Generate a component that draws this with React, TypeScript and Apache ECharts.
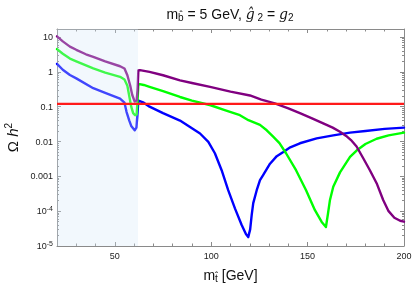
import React, { useEffect, useRef } from "react";
import * as echarts from "echarts";

const purpleX = [20, 23, 26.7, 30, 35, 38.8, 45, 52.7, 55, 56.5, 58, 59, 60.3, 61.3, 61.8, 62.2, 63, 68, 75, 83.8, 90, 99.4, 110, 120.1, 126, 133, 140, 146, 152, 158.1, 163, 166.8, 170, 172.5, 175.4, 179, 182.3, 186, 189.2, 192, 195, 198, 200];
const purpleY = [10.5, 7.5, 5.3, 4.3, 3.2, 2.7, 2.0, 1.45, 1.25, 0.8, 0.4, 0.22, 0.14, 0.15, 0.3, 1.1, 1.12, 1.0, 0.8, 0.57, 0.48, 0.37, 0.27, 0.21, 0.16, 0.125, 0.09, 0.065, 0.047, 0.033, 0.025, 0.019, 0.0145, 0.011, 0.0072, 0.0032, 0.0015, 6e-4, 2.1e-4, 1.0e-4, 6.5e-5, 5.3e-5, 5.0e-5];

const greenX = [20, 23, 26.7, 30, 38.8, 45, 52.7, 55, 56.5, 57.5, 58.5, 59.5, 60.5, 61.3, 61.8, 62.2, 65, 68, 75, 83.8, 90, 99.7, 107, 114.9, 119.3, 125.3, 128.8, 132, 135.4, 138.8, 144, 149.2, 153.8, 157.3, 159.5, 160.5, 161.6, 163.3, 166.8, 172, 175.4, 180, 185.8, 192, 200];
const greenY = [4.5, 3.3, 2.4, 2.0, 1.26, 0.95, 0.72, 0.6, 0.4, 0.2, 0.1, 0.065, 0.057, 0.06, 0.15, 0.45, 0.42, 0.37, 0.28, 0.19, 0.15, 0.11, 0.08, 0.057, 0.041, 0.03, 0.021, 0.014, 0.009, 0.0046, 0.0015, 4e-4, 1.07e-4, 4.9e-5, 3.5e-5, 8e-5, 2.1e-4, 5e-4, 0.0013, 0.0036, 0.0055, 0.0085, 0.012, 0.015, 0.018];

const blueX = [20, 23, 26.7, 30, 38.8, 45, 52.7, 55, 56.1, 57.5, 58.5, 60.3, 61.2, 61.8, 62.2, 65, 68, 75, 83.8, 89, 94.2, 98.5, 101.9, 105.4, 108.8, 112.3, 115.8, 118, 119.2, 120.2, 121, 121.8, 123.6, 125.3, 127, 130.5, 134, 137.4, 141, 146, 154.7, 163.3, 172, 180, 190, 200];
const blueY = [1.7, 1.15, 0.81, 0.65, 0.34, 0.25, 0.17, 0.13, 0.07, 0.04, 0.028, 0.021, 0.025, 0.07, 0.15, 0.13, 0.1, 0.065, 0.04, 0.026, 0.017, 0.0098, 0.0046, 0.0015, 4e-4, 1.2e-4, 4e-5, 2.2e-5, 1.8e-5, 3e-5, 7.8e-5, 1.7e-4, 4e-4, 7.8e-4, 0.0011, 0.0023, 0.0038, 0.005, 0.0068, 0.0089, 0.0123, 0.015, 0.018, 0.02, 0.023, 0.025];

const relicX = [20, 200];
const relicY = [0.12, 0.12];

const shadeRange = [20, 62];

const xMajorTicks = [50, 100, 150];
const xLabels = [50, 100, 150, 200];
const yMinorTicks: number[] = [];
for (let e = -5; e <= 1; e++) {
  for (let m = 2; m <= 9; m++) {
    const v = m * Math.pow(10, e);
    if (v < 17) yMinorTicks.push(Number(v.toPrecision(3)));
  }
}

const zip = (xs: number[], ys: number[]) => xs.map((x, i) => [x, ys[i]]);

const FRAME = "#8a8a8a";
const FONT = "Liberation Sans";

export default function App() {
  const ref = useRef<HTMLDivElement>(null);
  useEffect(() => {
    const chart = echarts.init(ref.current!, null, { renderer: "svg" });
    const xBase = {
      type: "value",
      min: 20,
      max: 200,
      splitLine: { show: false },
    };
    const yBase = {
      type: "log",
      logBase: 10,
      min: 1e-5,
      max: 17,
      splitLine: { show: false },
    };
    const yFmt = (v: number) => {
      const e = Math.round(Math.log10(v));
      const m: Record<string, string> = { "1": "10", "0": "1", "-1": "0.1", "-2": "0.01", "-3": "0.001" };
      if (m[String(e)] !== undefined) return m[String(e)];
      return "10{sup|-" + Math.abs(e) + "}";
    };
    const curve = (xs: number[], ys: number[], color: string) => ({
      type: "line",
      data: zip(xs, ys),
      showSymbol: false,
      lineStyle: { color, width: 2.4, join: "round", cap: "round" },
      z: 2,
    });
    chart.setOption({
      animation: false,
      grid: { left: 57, right: 9, top: 29, bottom: 40, outerBoundsMode: "none", containLabel: false },
      graphic: [
        {
          type: "text",
          x: 230,
          y: 14,
          style: {
            text: "m{sub|b\u0302} = 5 GeV, {it|g\u0302}{sub| 2} = {it|g}{sub|2}",
            align: "center",
            verticalAlign: "middle",
            fontFamily: FONT,
            fontSize: 14,
            fill: "#111",
            rich: {
              sub: { fontSize: 10, fontFamily: FONT, padding: [7, 0, 0, 0], verticalAlign: "bottom" },
              it: { fontSize: 14, fontFamily: "DejaVu Serif", fontStyle: "italic" },
            },
          },
        },
      ],
      xAxis: [
        {
          ...xBase,
          position: "bottom",
          axisLine: { show: true, lineStyle: { color: FRAME, width: 1 } },
          axisTick: { show: true, inside: true, length: 4, customValues: xMajorTicks, lineStyle: { color: FRAME } },
          axisLabel: { show: true, customValues: xLabels, color: "#222", fontSize: 9, fontFamily: FONT, margin: 5 },
          name: "m{sub|t\u0302} [GeV]",
          nameLocation: "middle",
          nameGap: 20,
          nameTextStyle: {
            fontSize: 14,
            fontFamily: FONT,
            color: "#111",
            rich: { sub: { fontSize: 10, fontFamily: FONT, padding: [7, 0, 0, 0], verticalAlign: "bottom" } },
          },
        },
        {
          ...xBase,
          position: "bottom",
          interval: 10,
          axisLine: { show: false },
          axisTick: { show: true, inside: true, length: 2.5, lineStyle: { color: FRAME } },
          axisLabel: { show: false },
        },
        {
          ...xBase,
          position: "top",
          axisLine: { show: true, lineStyle: { color: FRAME, width: 1 } },
          axisTick: { show: true, inside: true, length: 4, customValues: xMajorTicks, lineStyle: { color: FRAME } },
          axisLabel: { show: false },
        },
        {
          ...xBase,
          position: "top",
          interval: 10,
          axisLine: { show: false },
          axisTick: { show: true, inside: true, length: 2.5, lineStyle: { color: FRAME } },
          axisLabel: { show: false },
        },
      ],
      yAxis: [
        {
          ...yBase,
          position: "left",
          axisLine: { show: true, lineStyle: { color: FRAME, width: 1 } },
          axisTick: { show: true, inside: true, length: 4, lineStyle: { color: FRAME } },
          axisLabel: {
            show: true,
            showMaxLabel: false,
            formatter: yFmt,
            color: "#222",
            fontSize: 9,
            fontFamily: FONT,
            margin: 4,
            rich: { sup: { fontSize: 7, fontFamily: FONT, verticalAlign: "top", padding: [0, 0, 6, 0], color: "#222" } },
          },
          name: "\u03a9 {it|h}{sup|2}",
          nameLocation: "middle",
          nameGap: 36,
          nameRotate: 90,
          nameTextStyle: {
            fontSize: 15,
            fontFamily: FONT,
            color: "#111",
            rich: {
              it: { fontSize: 15, fontFamily: FONT, fontStyle: "italic" },
              sup: { fontSize: 10, fontFamily: FONT, verticalAlign: "top", padding: [0, 0, 8, 0] },
            },
          },
        },
        {
          ...yBase,
          position: "left",
          axisLine: { show: false },
          axisTick: { show: true, inside: true, length: 2, customValues: yMinorTicks, lineStyle: { color: FRAME } },
          axisLabel: { show: false },
        },
        {
          ...yBase,
          position: "right",
          axisLine: { show: true, lineStyle: { color: FRAME, width: 1 } },
          axisTick: { show: true, inside: true, length: 4, lineStyle: { color: FRAME } },
          axisLabel: { show: false },
        },
        {
          ...yBase,
          position: "right",
          axisLine: { show: false },
          axisTick: { show: true, inside: true, length: 2, customValues: yMinorTicks, lineStyle: { color: FRAME } },
          axisLabel: { show: false },
        },
      ],
      series: [
        curve(blueX, blueY, "#0000ff"),
        curve(greenX, greenY, "#00ff00"),
        curve(purpleX, purpleY, "#800080"),
        {
          type: "line",
          data: zip(relicX, relicY),
          showSymbol: false,
          lineStyle: { color: "#ff1a1a", width: 2.2 },
          z: 4,
        },
        {
          type: "line",
          data: [],
          z: 3,
          markArea: {
            silent: true,
            z: 3,
            itemStyle: { color: "rgba(213,233,250,0.3)" },
            data: [[{ xAxis: shadeRange[0] }, { xAxis: shadeRange[1] }]],
          },
        },
      ],
    });
    return () => chart.dispose();
  }, []);
  return <div ref={ref} style={{ position: "fixed", left: 0, top: 0, width: 413, height: 286 }} />;
}
